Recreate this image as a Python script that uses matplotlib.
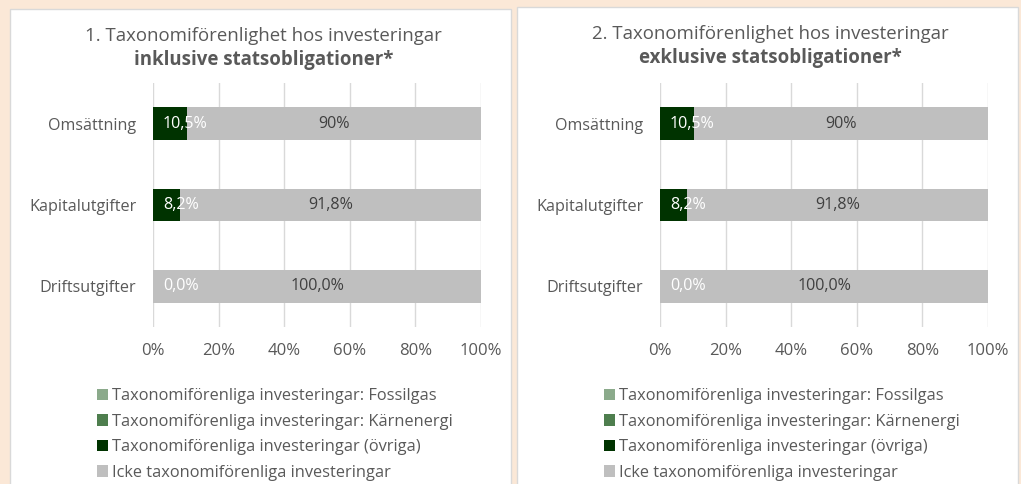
import matplotlib
matplotlib.use("Agg")
import matplotlib.pyplot as plt
from matplotlib.patches import Rectangle, Patch

categories = ["Omsättning", "Kapitalutgifter", "Driftsutgifter"]
fossilgas = [0.0, 0.0, 0.0]
karnenergi = [0.0, 0.0, 0.0]
ovriga = [10.5, 8.2, 0.0]
icke = [89.5, 91.8, 100.0]
ovriga_labels = ["10,5%", "8,2%", "0,0%"]
icke_labels = ["90%", "91,8%", "100,0%"]
xticks = [0, 20, 40, 60, 80, 100]
xtick_labels = ["0%", "20%", "40%", "60%", "80%", "100%"]
titles = [("1. Taxonomiförenlighet hos investeringar", "inklusive statsobligationer*"),
          ("2. Taxonomiförenlighet hos investeringar", "exklusive statsobligationer*")]
legend_labels = ["Taxonomiförenliga investeringar: Fossilgas",
                 "Taxonomiförenliga investeringar: Kärnenergi",
                 "Taxonomiförenliga investeringar (övriga)",
                 "Icke taxonomiförenliga investeringar"]

C_FOSSIL = "#8BAA8B"
C_KARN = "#4E7E4E"
C_OVR = "#003300"
C_ICKE = "#BFBFBF"
TXT = "#595959"
FONT = "Open Sans"

W, H = 1021, 484
fig = plt.figure(figsize=(W / 100, H / 100), dpi=100)
fig.patch.set_facecolor("#FBE8D7")

def px(x0, y0, w, h):
    return [x0 / W, 1 - (y0 + h) / H, w / W, h / H]

panels = [(10, 9, 501, 480), (517, 7, 501, 482)]
axes_x = [153, 660]
for pi, (px0, py0, pw, ph) in enumerate(panels):
    fig.patches.append(Rectangle((px0 / W, 1 - (py0 + ph) / H), pw / W, ph / H,
                                 transform=fig.transFigure, facecolor="white",
                                 edgecolor="#D9D9D9", linewidth=1.0, zorder=-5))
    cx = px0 + pw / 2 + 3
    dy = py0 - 9
    fig.text(cx / W, 1 - (36 + dy) / H, titles[pi][0], ha="center", va="center",
             fontsize=13.4, color=TXT, family=FONT)
    fig.text(cx / W, 1 - (60 + dy) / H, titles[pi][1], ha="center", va="center",
             fontsize=13.4, color=TXT, family=FONT, fontweight="bold")

    ax0 = axes_x[pi]
    ax = fig.add_axes(px(ax0, 83, 328, 244))
    ax.set_zorder(2)
    ax.set_xlim(0, 100)
    ax.set_ylim(2.5, -0.5)
    y = list(range(len(categories)))
    left = [0.0] * 3
    for vals, col in [(fossilgas, C_FOSSIL), (karnenergi, C_KARN), (ovriga, C_OVR), (icke, C_ICKE)]:
        ax.barh(y, vals, left=left, color=col, height=0.405, zorder=3)
        left = [l + v for l, v in zip(left, vals)]
    for i in y:
        ax.text(3.0, i, ovriga_labels[i], ha="left", va="center", color="white",
                fontsize=11.6, family=FONT, zorder=4)
        st = fossilgas[i] + karnenergi[i] + ovriga[i]
        ax.text(st + icke[i] / 2, i, icke_labels[i], ha="center", va="center", color="#404040",
                fontsize=11.6, family=FONT, zorder=4)
    ax.set_xticks(xticks)
    ax.set_xticklabels(xtick_labels, fontsize=12, color=TXT, family=FONT)
    ax.set_yticks(y)
    ax.set_yticklabels(categories, fontsize=11.6, color=TXT, family=FONT)
    ax.tick_params(axis="y", length=0, pad=12)
    ax.tick_params(axis="x", length=0, pad=11.5)
    ax.grid(axis="x", color="#D9D9D9", linewidth=1, zorder=0)
    for s in ax.spines.values():
        s.set_visible(False)
    ax.set_facecolor("none")

    handles = [Patch(facecolor=c) for c in [C_FOSSIL, C_KARN, C_OVR, C_ICKE]]
    lx = (px0 + 87) / W
    fig.legend(handles, legend_labels, loc="upper left", bbox_to_anchor=(lx, 1 - 388 / H),
               frameon=False, prop={"family": FONT, "size": 11.8}, labelcolor=TXT,
               handlelength=0.7, handleheight=0.7, handletextpad=0.2,
               labelspacing=0.58, borderaxespad=0, borderpad=0)

fig.savefig("out.png", dpi=100, facecolor=fig.get_facecolor())
